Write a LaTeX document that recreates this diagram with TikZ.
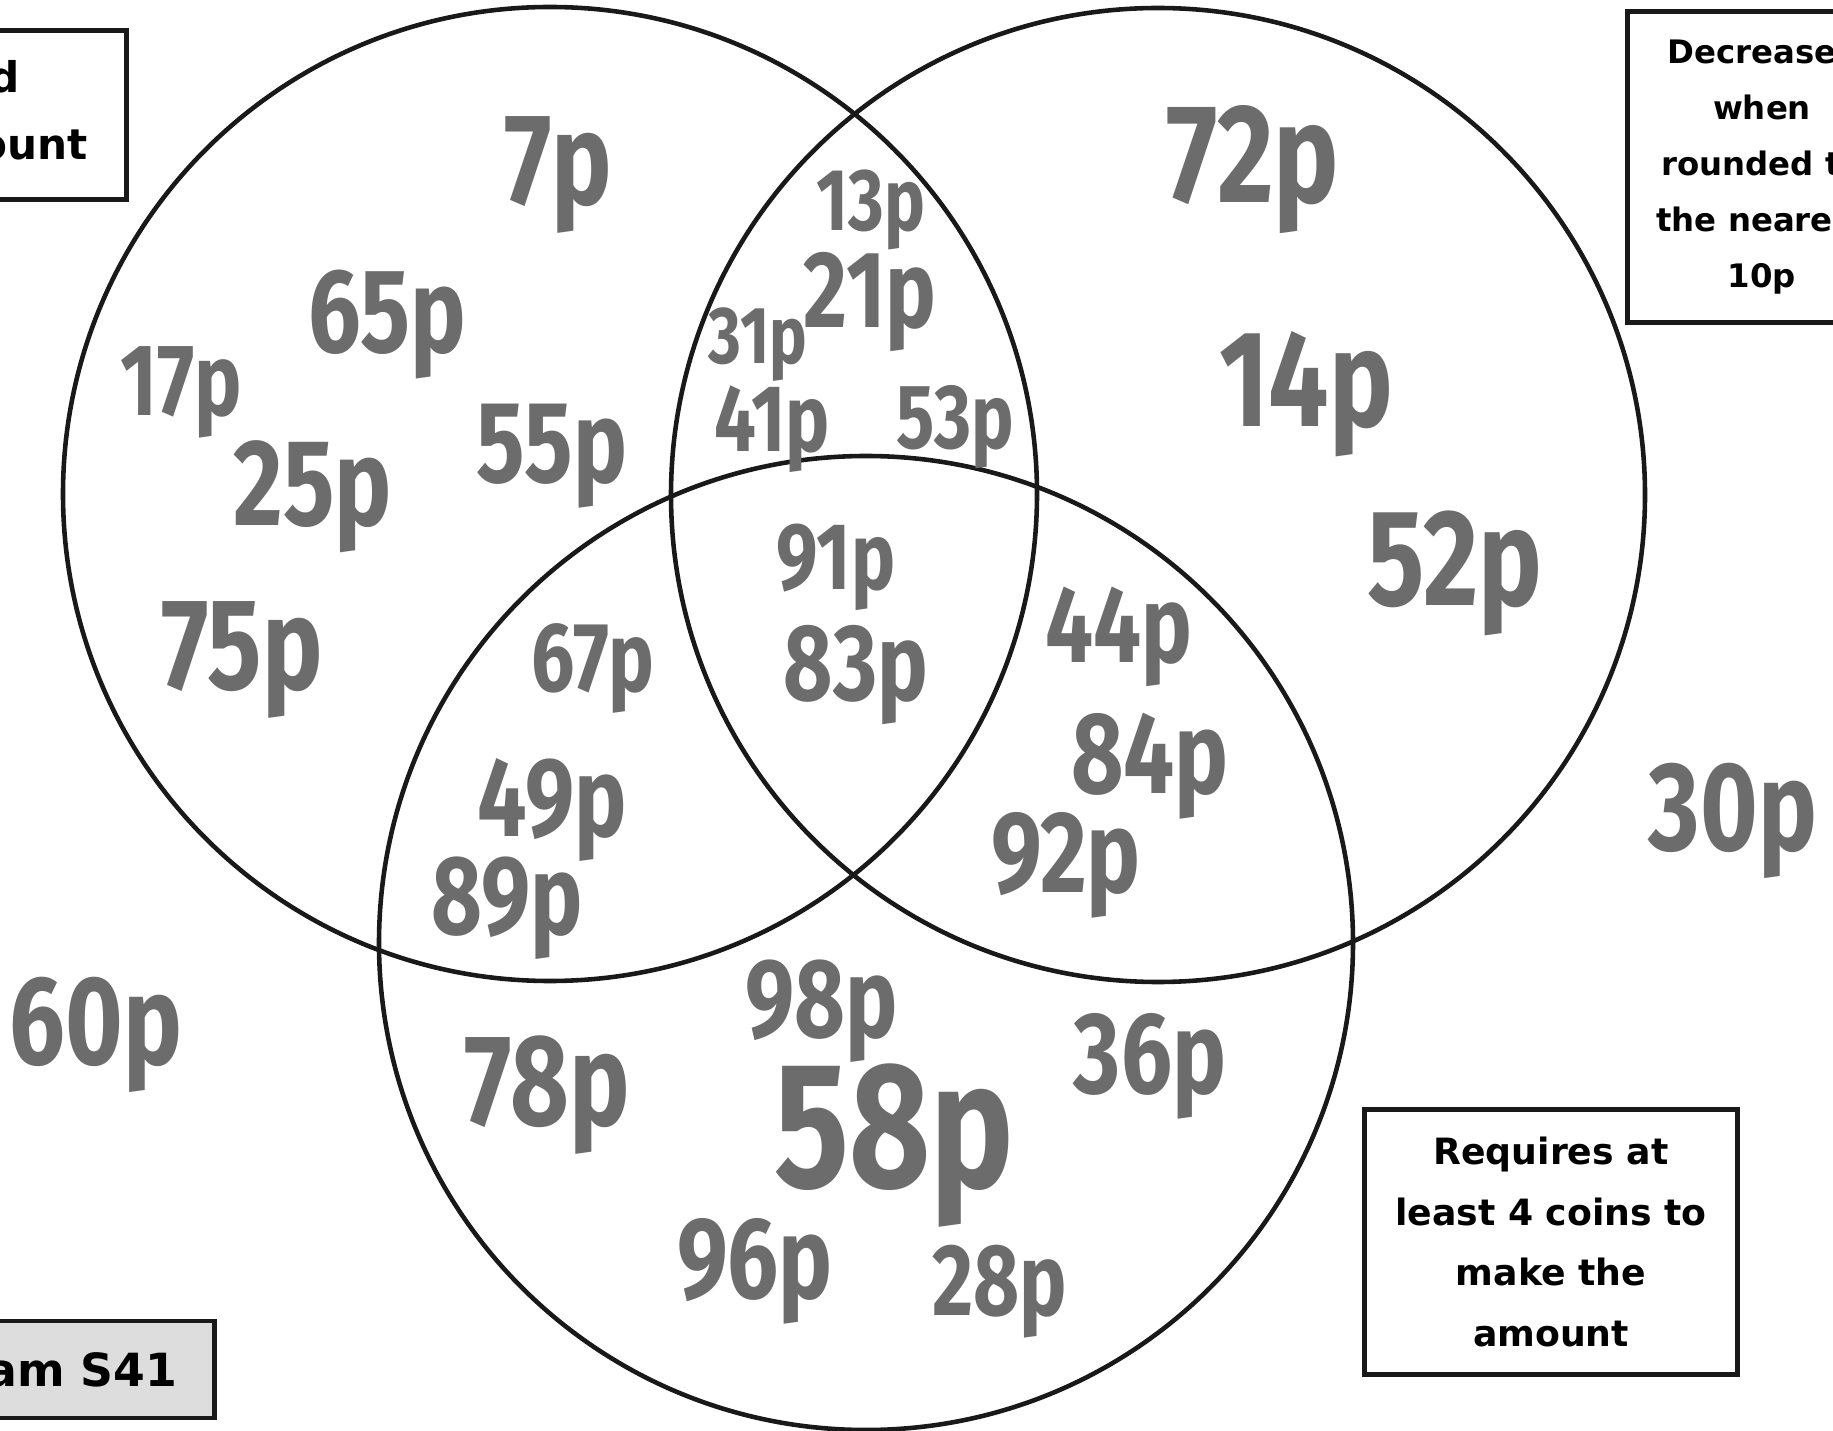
\documentclass[tikz,border=0pt]{standalone}
\usepackage{fontspec}
\usepackage{tikz}
\usetikzlibrary{positioning}
\newfontfamily\handfont{Fira Sans}[FakeStretch=0.78]
\newfontfamily\cardfont{DejaVu Sans}
\definecolor{marker}{RGB}{108,108,108}
\definecolor{ink}{RGB}{25,25,25}
\definecolor{tagfill}{RGB}{221,221,221}

\begin{document}
\begin{tikzpicture}[x=0.01cm,y=-0.01cm,
        ring/.style={draw=ink,line width=1.3pt},
        amt/.style={text=marker,inner sep=0pt,font=\handfont\bfseries\fontsize{#1}{#1}\selectfont},
        card/.style={draw=ink,line width=1.4pt,align=center,inner sep=0pt}]
        \useasboundingbox (0,0) rectangle (1833,1431);
        \clip (0,0) rectangle (1833,1431);
        % the three sets
        \draw[ring] (550,494) circle [radius=487];
        \draw[ring] (1158,495) circle [radius=487];
        \draw[ring] (866,943) circle [radius=487];

        % criteria cards
        \node[card,anchor=north east,minimum width=2.6cm,minimum height=1.69cm](oddcard) at (129,28) {};
        \node[anchor=base east,inner sep=0pt,font=\cardfont\bfseries\fontsize{12}{19}\selectfont](oddtop) at (20,93) {d};
        \node[anchor=base east,inner sep=0pt,font=\cardfont\bfseries\fontsize{12}{19}\selectfont](oddbot) at (88,160) {ount};
        \node[card,minimum width=2.68cm,minimum height=3.1cm,font=\cardfont\bfseries\fontsize{9.2}{15.9}\selectfont](roundcard) at (1762,167)
                {Decreases\\when\\rounded to\\the nearest\\10p};
        \node[card,minimum width=3.72cm,minimum height=2.65cm,font=\cardfont\bfseries\fontsize{10.3}{17.3}\selectfont](coincard) at (1551,1242)
                {Requires at\\least 4 coins to\\make the\\amount};
        \node[card,fill=tagfill,anchor=east,minimum height=0.97cm,inner xsep=0.37cm,font=\cardfont\bfseries\fontsize{13}{15}\selectfont](tag) at (217,1369.5) {am S41};

        % left set only
        \node[amt=37](p_7) at (558,175) {7p};
        \node[amt=34](p_65) at (387,325) {65p};
        \node[amt=29](p_17) at (181,392) {17p};
        \node[amt=35](p_25) at (313,497) {25p};
        \node[amt=33](p_55) at (552,456) {55p};
        \node[amt=37](p_75) at (242,660) {75p};
        % left and right
        \node[amt=25](p_13) at (871,210) {13p};
        \node[amt=31](p_21) at (870,302) {21p};
        \node[amt=23](p_31) at (758,345) {31p};
        \node[amt=27](p_41) at (772,429) {41p};
        \node[amt=26](p_53) at (955,427) {53p};
        % right set only
        \node[amt=40](p_72) at (1253,170) {72p};
        \node[amt=39](p_14) at (1306,394) {14p};
        \node[amt=39](p_52) at (1455,573) {52p};
        % all three
        \node[amt=27](p_91) at (836,567) {91p};
        \node[amt=31](p_83) at (856,675) {83p};
        % left and bottom
        \node[amt=28](p_67) at (593,668) {67p};
        \node[amt=32](p_49) at (552,810) {49p};
        \node[amt=32](p_89) at (507,908) {89p};
        % right and bottom
        \node[amt=31](p_44) at (1119,637) {44p};
        \node[amt=33](p_84) at (1150,766) {84p};
        \node[amt=33](p_92) at (1066,865) {92p};
        % bottom set only
        \node[amt=32](p_98) at (822,1011) {98p};
        \node[amt=37](p_78) at (547,1095) {78p};
        \node[amt=33](p_36) at (1150,1066) {36p};
        \node[amt=51](p_58) at (894,1146) {58p};
        \node[amt=33](p_96) at (755,1271) {96p};
        \node[amt=29](p_28) at (1000,1292) {28p};
        % outside
        \node[amt=36](p_30) at (1733,821) {30p};
        \node[amt=36](p_60) at (96,1035) {60p};
\end{tikzpicture}
\end{document}
